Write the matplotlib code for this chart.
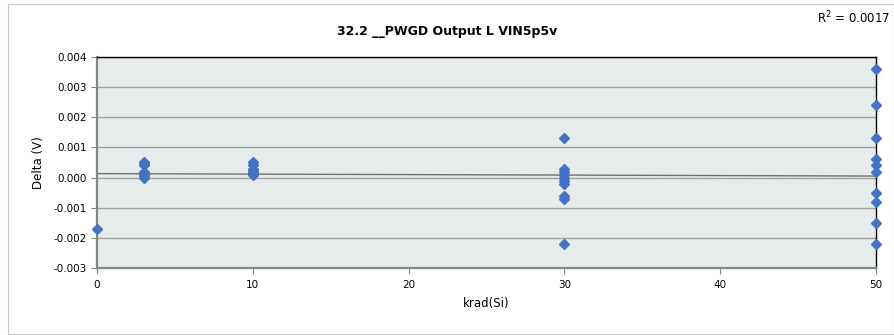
import numpy as np
import matplotlib.pyplot as plt

# radiation dose (krad) and delta values
krad_0 = [0]
delta_0 = [-0.0017]

krad_3 = [3] * 8
delta_3 = [0.0005, 0.00045, 0.0004, 0.0002, 0.00015, 0.0001, 0.00005, 0.0]

krad_10 = [10] * 7
delta_10 = [0.0005, 0.0004, 0.0003, 0.00025, 0.0002, 0.00015, 0.0001]

krad_30 = [30] * 10
delta_30 = [0.0013, 0.0003, 0.0002, 0.0001, 0.0, -0.0001, -0.0002, -0.0006, -0.0007, -0.0022]

krad_50 = [50] * 10
delta_50 = [0.0036, 0.0024, 0.0013, 0.0006, 0.0004, 0.0002, -0.0005, -0.0008, -0.0015, -0.0022]

# linear trendline as drawn in the chart (ends)
trend_krad = [0, 50]
trend_delta = [0.00013, 0.00005]

x = np.array(krad_0 + krad_3 + krad_10 + krad_30 + krad_50, dtype=float)
y = np.array(delta_0 + delta_3 + delta_10 + delta_30 + delta_50)

title = "32.2 __PWGD Output L VIN5p5v"
r2_text = "R$^2$ = 0.0017"

fig = plt.figure(figsize=(8.95, 3.35), dpi=100)

# chart border like Excel
border = plt.Rectangle((0.009, 0.003), 0.99, 0.985, transform=fig.transFigure,
                       fill=False, edgecolor="#C8C8C8", linewidth=0.8)
fig.patches.append(border)

ax = fig.add_axes([0.1084, 0.2, 0.8704, 0.63])
ax.set_facecolor("#E6ECEC")

ax.set_xlim(0, 50)
ax.set_ylim(-0.003, 0.004)
ax.set_xticks(range(0, 51, 10))
ax.set_yticks(np.arange(-0.003, 0.0041, 0.001))
ax.set_yticklabels(["%.3f" % v for v in np.arange(-0.003, 0.0041, 0.001)])
ax.yaxis.grid(True, color="#A0A0A0", linewidth=1.0)
ax.set_axisbelow(True)

ax.plot(trend_krad, trend_delta, color="#707070", linewidth=1.0, zorder=2)

ax.plot(x, y, linestyle="none", marker="D", markersize=4.8, color="#4472C4",
        markeredgecolor="#4472C4", clip_on=False, zorder=3)

for side in ["top", "right"]:
    ax.spines[side].set_color("black")
    ax.spines[side].set_linewidth(1.0)
for side in ["left", "bottom"]:
    ax.spines[side].set_color("#868686")
    ax.spines[side].set_linewidth(1.6)

ax.tick_params(axis="both", length=4, color="#868686", labelsize=7.5, labelcolor="black")
ax.tick_params(axis="x", pad=5)

ax.set_xlabel("krad(Si)", fontsize=8.5, labelpad=5)
ax.set_ylabel("Delta (V)", fontsize=8.5, labelpad=6)

fig.text(0.5, 0.905, title, ha="center", va="center", fontsize=9, fontweight="bold")
fig.text(0.995, 0.945, r2_text, ha="right", va="center", fontsize=8.5)

fig.savefig("out.png", dpi=100)
